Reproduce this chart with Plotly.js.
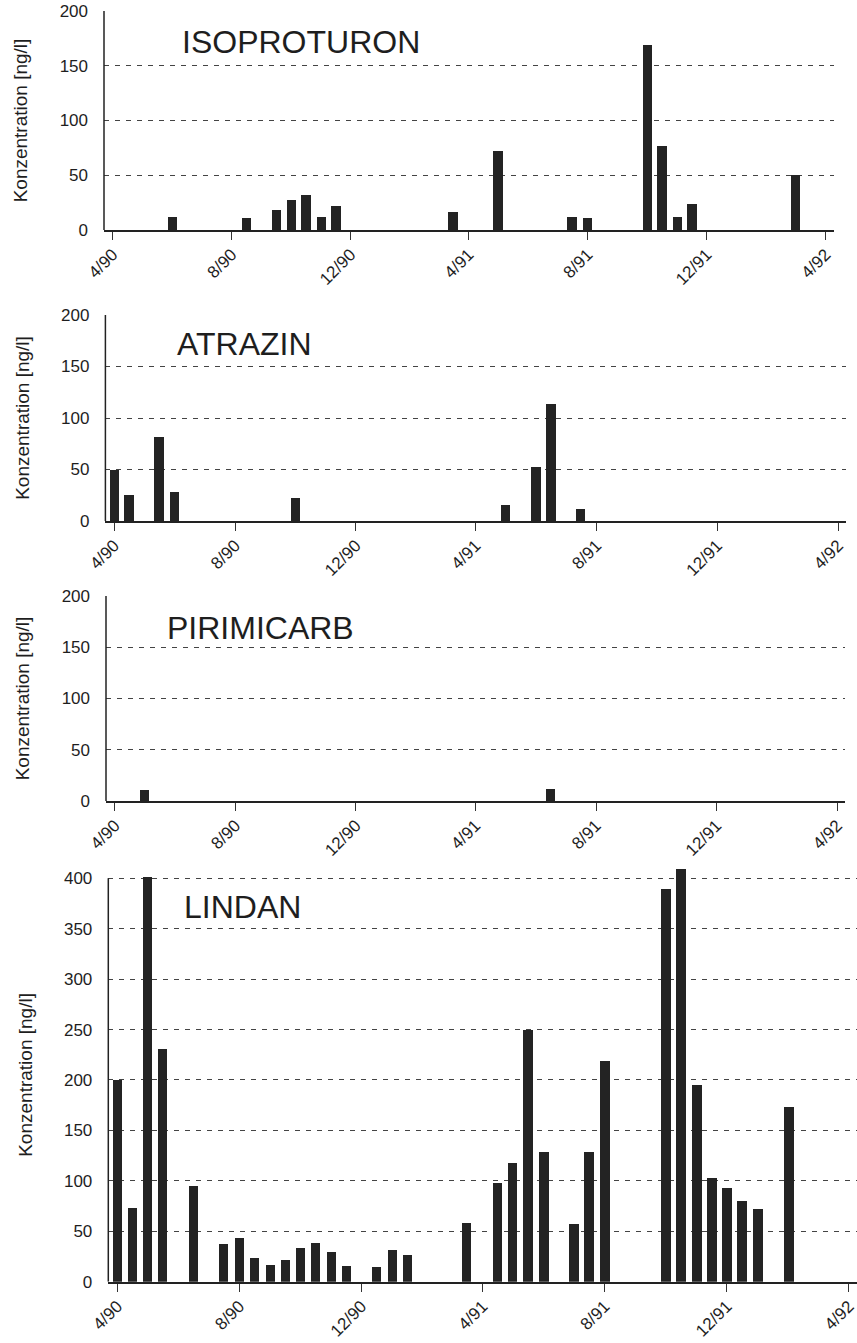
<!DOCTYPE html>
<html><head><meta charset="utf-8">
<script src="https://cdn.plot.ly/plotly-3.0.1.min.js"></script>
<style>body{margin:0;background:#fff}#chart{width:857px;height:1343px}</style>
</head><body><div id="chart"></div>
<script>
// ---- data ----
var tickDates = ["1990-04-01","1990-08-01","1990-12-01","1991-04-01","1991-08-01","1991-12-01","1992-04-01"];
var tickLabels = ["4/90","8/90","12/90","4/91","8/91","12/91","4/92"];

var isoDates = ["1990-06-01","1990-08-16","1990-09-16","1990-10-01","1990-10-16","1990-11-01","1990-11-16","1991-03-16","1991-05-01","1991-07-16","1991-08-01","1991-10-01","1991-10-16","1991-11-01","1991-11-16","1992-03-01"];
var isoValues = [12, 11, 18, 27, 32, 12, 22, 16, 72, 12, 11, 169, 77, 12, 24, 50];

var atrDates = ["1990-04-01","1990-04-16","1990-05-16","1990-06-01","1990-10-01","1991-05-01","1991-06-01","1991-06-16","1991-07-16"];
var atrValues = [50, 25, 82, 28, 22, 16, 52, 114, 12];

var pirDates = ["1990-05-01","1991-06-16"];
var pirValues = [11, 12];

var linDates = ["1990-04-01","1990-04-16","1990-05-01","1990-05-16","1990-06-16","1990-07-16","1990-08-01","1990-08-16","1990-09-01","1990-09-16","1990-10-01","1990-10-16","1990-11-01","1990-11-16","1990-12-16","1991-01-01","1991-01-16","1991-03-16","1991-04-16","1991-05-01","1991-05-16","1991-06-01","1991-07-01","1991-07-16","1991-08-01","1991-10-01","1991-10-16","1991-11-01","1991-11-16","1991-12-01","1991-12-16","1992-01-01","1992-02-01"];
var linValues = [200, 73, 401, 231, 95, 37, 43, 24, 17, 22, 33, 38, 29, 16, 15, 31, 26, 58, 98, 118, 250, 129, 57, 129, 219, 389, 409, 195, 103, 93, 80, 72, 173];

var panelNames = ["ISOPROTURON","ATRAZIN","PIRIMICARB","LINDAN"];
var yTitle = "Konzentration [ng/l]";

// ---- layout helpers ----
var W = 857, H = 1343;
function xd(l, r){ return [l / W, r / W]; }
function yd(top, bottom){ return [1 - bottom / H, 1 - top / H]; }
var FONT = "Arial, 'Liberation Sans', Helvetica, sans-serif";
var barColor = "#232323";
var DAY = 86400000;
var xRange = ["1990-03-23", "1992-04-09"];

var panels = [
  {dates: isoDates, vals: isoValues, xdom: xd(104, 833.5), ydom: yd(11, 230), yr: [0, 200], axTop: 200, title: {x: 180, y: 42}},
  {dates: atrDates, vals: atrValues, xdom: xd(105.4, 846), ydom: yd(315, 521), yr: [0, 200], axTop: 200, title: {x: 175, y: 344}},
  {dates: pirDates, vals: pirValues, xdom: xd(106, 845), ydom: yd(596, 801), yr: [0, 200], axTop: 200, title: {x: 165, y: 628}},
  {dates: linDates, vals: linValues, xdom: xd(108.3, 857), ydom: yd(868.2, 1281.7), yr: [0, 410], axTop: 400, title: {x: 182, y: 907}}
];

var data = [], layout = {
  width: W, height: H,
  margin: {l: 0, r: 0, t: 0, b: 0},
  paper_bgcolor: "#fff", plot_bgcolor: "rgba(0,0,0,0)",
  showlegend: false,
  font: {family: FONT, color: "#1e1e1e"},
  bargap: 0,
  annotations: [],
  shapes: []
};

panels.forEach(function(p, i){
  var n = i === 0 ? "" : String(i + 1);
  data.push({
    type: "bar", x: p.dates, y: p.vals,
    xaxis: "x" + n, yaxis: "y" + n,
    width: 9.6 * DAY,
    marker: {color: barColor, line: {width: 0}},
    hoverinfo: "x+y"
  });
  layout["xaxis" + n] = {
    type: "date", domain: p.xdom, anchor: "y" + n, range: xRange,
    tickmode: "array", tickvals: tickDates, ticktext: tickLabels,
    tickangle: -45, ticks: "outside", ticklen: 8, tickwidth: 1, tickcolor: "#333",
    ticklabelstandoff: -2, ticklabeloverflow: "allow",
    tickfont: {family: FONT, size: 17, color: "#1e1e1e"},
    showline: true, linewidth: 2, linecolor: "#222",
    showgrid: false, zeroline: false, fixedrange: true
  };
  layout["yaxis" + n] = {
    domain: p.ydom, anchor: "x" + n, range: p.yr,
    tickmode: "linear", tick0: 0, dtick: 50,
    ticks: "", ticklabelstandoff: 15,
    tickfont: {family: FONT, size: 17, color: "#1e1e1e"},
    showline: false,
    showgrid: true, gridcolor: "#444", gridwidth: 1, griddash: "5px,6px",
    zeroline: false, fixedrange: true,
    title: {text: yTitle, font: {family: FONT, size: 19, color: "#1e1e1e"}, standoff: 26}
  };
  // left axis line from 0 to the top tick
  layout.shapes.push({
    type: "line", xref: "x" + n + " domain", yref: "y" + n,
    x0: 0, x1: 0, y0: 0, y1: p.axTop,
    line: {color: "#222", width: 1.5}
  });
  layout.annotations.push({
    xref: "paper", yref: "paper", x: p.title.x / W, y: 1 - p.title.y / H,
    xanchor: "left", yanchor: "middle", showarrow: false,
    text: panelNames[i], font: {family: FONT, size: 32, color: "#1e1e1e"}
  });
});

Plotly.newPlot("chart", data, layout, {displayModeBar: false, staticPlot: true});
</script></body></html>
